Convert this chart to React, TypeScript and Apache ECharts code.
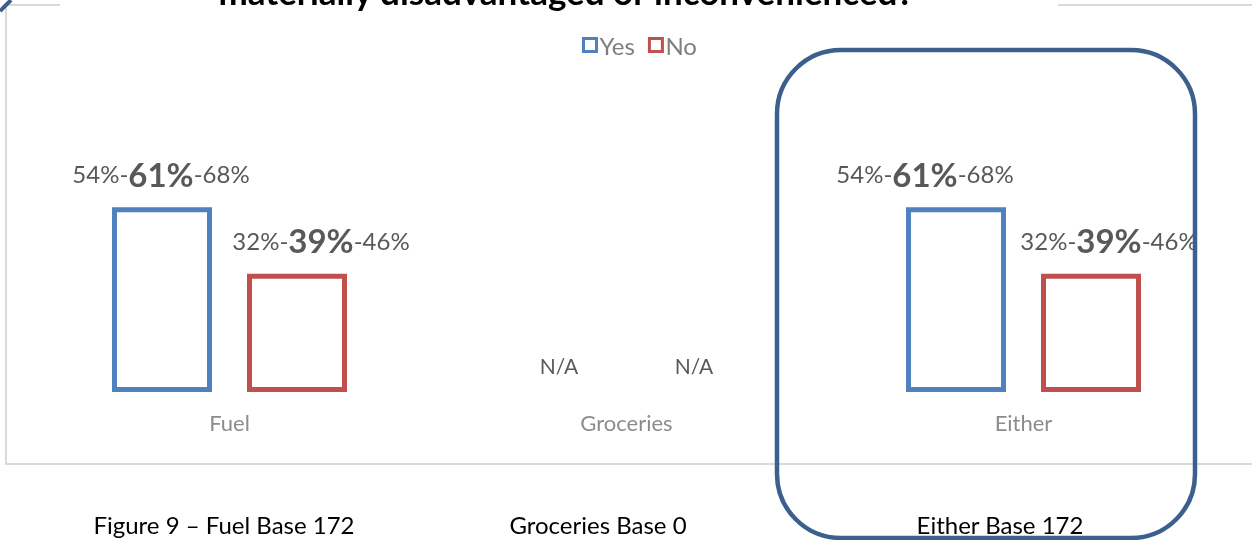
import React, { useEffect, useRef } from "react";
import * as echarts from "echarts";

const categories = ["Fuel", "Groceries", "Either"];
const yesValues: (number | null)[] = [61, null, 61];
const yesLow: (number | null)[] = [54, null, 54];
const yesHigh: (number | null)[] = [68, null, 68];
const noValues: (number | null)[] = [39, null, 39];
const noLow: (number | null)[] = [32, null, 32];
const noHigh: (number | null)[] = [46, null, 46];
const captions = ["Figure 9 – Fuel Base 172", "Groceries Base 0", "Either Base 172"];
const titleText = "materially disadvantaged or inconvenienced?";

const BLUE = "#4f81bd";
const RED = "#c0504d";
const FONT = "Lato, 'Open Sans', sans-serif";

const yesOffsets = [[-1, 0], [0, 0], [-31, 0]];
const noOffsets = [[24, 0], [0, 0], [18, 0]];

function buildData(values, low, high, offsets) {
  return values.map((v, i) => {
    if (v === null) {
      return {
        value: 0,
        itemStyle: { borderWidth: 0, color: "transparent", borderColor: "transparent" },
        label: { formatter: "N/A", distance: 16, fontSize: 21, color: "#595959", fontFamily: FONT },
      };
    }
    return {
      value: v,
      label: {
        offset: offsets[i],
        formatter: `{a|${low[i]}%-}{b|${v}%}{a|-${high[i]}%}`,
      },
    };
  });
}

export default function App() {
  const ref = useRef<HTMLDivElement>(null);
  useEffect(() => {
    const chart = echarts.init(ref.current!, null, { renderer: "svg" });
    const rich = {
      a: { fontSize: 24, color: "#595959", fontFamily: FONT },
      b: { fontSize: 33, fontWeight: "bold", color: "#595959", fontFamily: FONT },
    };
    const captionX = [224, 598, 1000];
    chart.setOption({
      animation: false,
      textStyle: { fontFamily: FONT },
      legend: {
        data: ["Yes", "No"],
        top: 28,
        left: 577,
        icon: "rect",
        itemWidth: 13,
        itemHeight: 13,
        itemGap: 13,
        itemStyle: { borderWidth: 3 },
        textStyle: { fontSize: 24, color: "#7f7f7f", fontFamily: FONT, padding: [0, 0, 0, -2] },
      },
      grid: { left: 31, right: 30, top: 89, bottom: 148 },
      xAxis: {
        type: "category",
        data: categories,
        axisLine: { show: false },
        axisTick: { show: false },
        axisLabel: { color: "#8c8c8c", fontSize: 22, margin: 19, fontFamily: FONT },
      },
      yAxis: {
        type: "value",
        min: 0,
        max: 100,
        show: false,
        splitLine: { show: false },
      },
      series: [
        {
          name: "Yes",
          type: "bar",
          barWidth: 100,
          barGap: "35%",
          data: buildData(yesValues, yesLow, yesHigh, yesOffsets),
          itemStyle: { color: "#ffffff", borderColor: BLUE, borderWidth: 5 },
          label: { show: true, position: "top", distance: 17, rich },
        },
        {
          name: "No",
          type: "bar",
          barWidth: 100,
          barGap: "35%",
          data: buildData(noValues, noLow, noHigh, noOffsets),
          itemStyle: { color: "#ffffff", borderColor: RED, borderWidth: 5 },
          label: { show: true, position: "top", distance: 17, rich },
        },
      ],
      graphic: [
        { type: "line", shape: { x1: 6, y1: 5, x2: 6, y2: 464 }, style: { stroke: "#d9d9d9", lineWidth: 2 } },
        { type: "line", shape: { x1: 5, y1: 464, x2: 1252, y2: 464 }, style: { stroke: "#d9d9d9", lineWidth: 2 } },
        { type: "line", shape: { x1: 5, y1: 5, x2: 60, y2: 5 }, style: { stroke: "#d9d9d9", lineWidth: 2 } },
        { type: "line", shape: { x1: 1058, y1: 5, x2: 1252, y2: 5 }, style: { stroke: "#d9d9d9", lineWidth: 2 } },
        {
          type: "text",
          x: 566,
          y: 8,
          style: {
            text: titleText,
            fontSize: 35,
            fontWeight: "bold",
            fill: "#000000",
            fontFamily: FONT,
            align: "center",
            verticalAlign: "bottom",
          },
        },
        ...captions.map((c, i) => ({
          type: "text",
          x: captionX[i],
          y: 524,
          style: {
            text: c,
            fontSize: 24,
            fill: "#000000",
            fontFamily: FONT,
            align: "center",
            verticalAlign: "middle",
          },
        })),
        {
          type: "rect",
          z: 100,
          shape: { x: 777, y: 50, width: 418, height: 488, r: 64 },
          style: { fill: "none", stroke: "#3c5f8e", lineWidth: 4.5 },
        },
        {
          type: "line",
          z: 100,
          shape: { x1: 0, y1: 11, x2: 11, y2: 0 },
          style: { stroke: "#3c5f8e", lineWidth: 4 },
        },
      ],
    });
    return () => chart.dispose();
  }, []);
  return <div ref={ref} style={{ position: "fixed", left: 0, top: 0, width: 1252, height: 540 }} />;
}
